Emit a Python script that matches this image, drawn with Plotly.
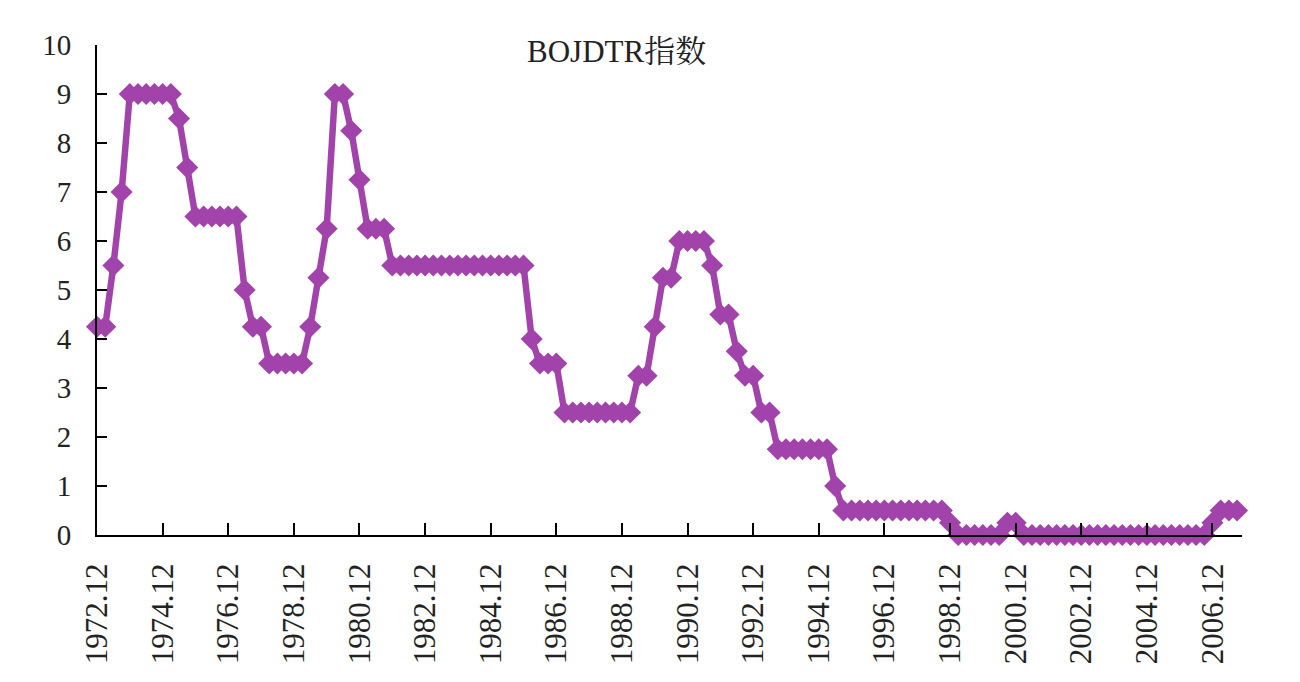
import plotly.graph_objects as go

# Quarter-end labels, 1972.12 .. 2007.09
quarters = []
y, m = 1972, 12
for _ in range(140):
    quarters.append(f"{y}.{m:02d}")
    m += 3
    if m > 12:
        m -= 12
        y += 1

values = [
    4.25, 4.25, 5.5, 7.0, 9.0, 9.0, 9.0, 9.0, 9.0, 9.0,
    8.5, 7.5, 6.5, 6.5, 6.5, 6.5, 6.5, 6.5, 5.0, 4.25,
    4.25, 3.5, 3.5, 3.5, 3.5, 3.5, 4.25, 5.25, 6.25, 9.0,
    9.0, 8.25, 7.25, 6.25, 6.25, 6.25, 5.5, 5.5, 5.5, 5.5,
    5.5, 5.5, 5.5, 5.5, 5.5, 5.5, 5.5, 5.5, 5.5, 5.5,
    5.5, 5.5, 5.5, 4.0, 3.5, 3.5, 3.5, 2.5, 2.5, 2.5,
    2.5, 2.5, 2.5, 2.5, 2.5, 2.5, 3.25, 3.25, 4.25, 5.25,
    5.25, 6.0, 6.0, 6.0, 6.0, 5.5, 4.5, 4.5, 3.75, 3.25,
    3.25, 2.5, 2.5, 1.75, 1.75, 1.75, 1.75, 1.75, 1.75, 1.75,
    1.0, 0.5, 0.5, 0.5, 0.5, 0.5, 0.5, 0.5, 0.5, 0.5,
    0.5, 0.5, 0.5, 0.5, 0.25, 0.0, 0.0, 0.0, 0.0, 0.0,
    0.0, 0.25, 0.25, 0.0, 0.0, 0.0, 0.0, 0.0, 0.0, 0.0,
    0.0, 0.0, 0.0, 0.0, 0.0, 0.0, 0.0, 0.0, 0.0, 0.0,
    0.0, 0.0, 0.0, 0.0, 0.0, 0.0, 0.25, 0.5, 0.5, 0.5,
]

tick_labels = ["1972.12", "1974.12", "1976.12", "1978.12", "1980.12", "1982.12",
               "1984.12", "1986.12", "1988.12", "1990.12", "1992.12", "1994.12",
               "1996.12", "1998.12", "2000.12", "2002.12", "2004.12", "2006.12"]

title_text = "BOJDTR指数"

color = "#A243AB"
font_family = "Liberation Serif, Noto Serif CJK SC, Noto Sans CJK SC, serif"

fig = go.Figure()
fig.add_trace(go.Scatter(
    x=quarters, y=values, mode="lines+markers",
    line=dict(color=color, width=6.5),
    marker=dict(symbol="diamond", size=17, color=color),
    cliponaxis=False, showlegend=False,
))

fig.add_annotation(
    text=title_text, xref="paper", yref="paper", x=0.454, y=0.986,
    xanchor="center", yanchor="middle", showarrow=False,
    font=dict(family=font_family, size=31, color="#222222"),
)

fig.update_layout(
    width=1300, height=682,
    margin=dict(l=97, r=58, t=45, b=147),
    paper_bgcolor="white", plot_bgcolor="white",
    font=dict(family=font_family, size=29, color="#222222"),
)

fig.update_xaxes(
    type="category", range=[0, 139.6], autorange=False,
    tickmode="array", tickvals=tick_labels, ticktext=tick_labels,
    tickangle=-90, ticks="inside", ticklen=12, tickwidth=2, tickcolor="black",
    showline=True, linecolor="black", linewidth=2, showgrid=False, zeroline=False,
    ticklabelstandoff=14, tickfont=dict(size=31),
)
fig.update_yaxes(
    range=[0, 10], autorange=False, dtick=1, tick0=0,
    ticks="inside", ticklen=10, tickwidth=2, tickcolor="black",
    showline=True, linecolor="black", linewidth=2, showgrid=False, zeroline=False,
    ticklabelstandoff=18,
)

fig.write_html("out.html")
